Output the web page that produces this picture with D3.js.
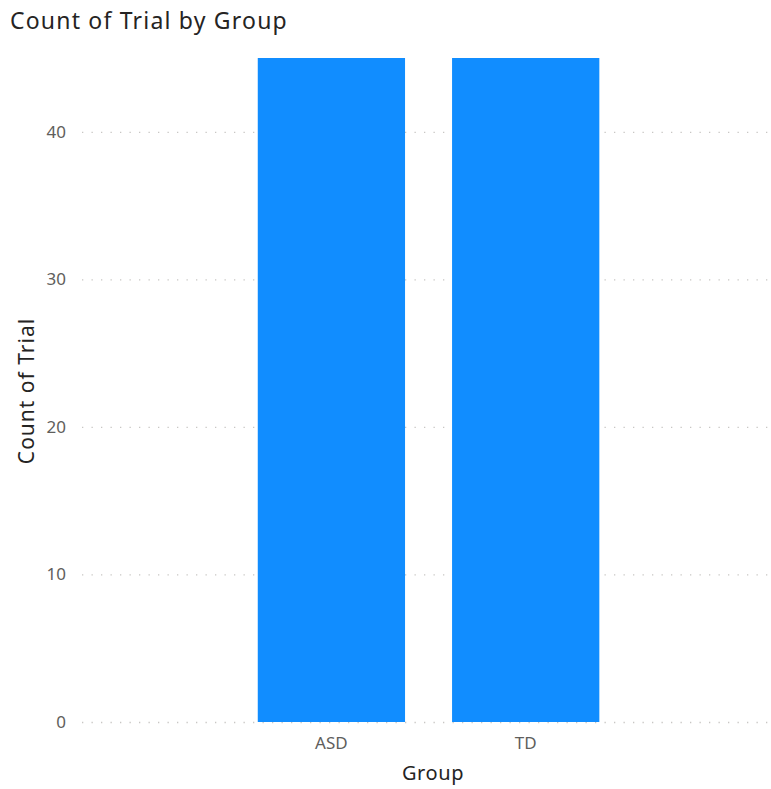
<!DOCTYPE html>
<html>
<head>
<meta charset="utf-8">
<script src="https://cdn.jsdelivr.net/npm/d3@7"></script>
<style>
  html, body { margin: 0; padding: 0; background: #fff; }
  svg { display: block; }
</style>
</head>
<body>
<svg id="chart" width="771" height="789"></svg>
<script>
// Count of trials per participant group
const groups = ["ASD", "TD"];
const trialCounts = [45, 45];
const yTicks = [0, 10, 20, 30, 40];

const svg = d3.select("#chart");
const FONT = "'Noto Sans', 'DejaVu Sans', sans-serif";

const plot = { left: 82, right: 768, top: 58, bottom: 722 };

const x = d3.scaleBand()
  .domain(groups)
  .range([234.25, 622.85])
  .paddingInner(0.242)
  .paddingOuter(0.121);

const y = d3.scaleLinear()
  .domain([0, 45])
  .range([plot.bottom, plot.top]);

// Title
svg.append("text")
  .attr("x", 10)
  .attr("y", 29)
  .attr("font-family", FONT)
  .attr("font-size", 23)
  .attr("letter-spacing", 1.2)
  .attr("fill", "#252423")
  .text("Count of Trial by Group");

// Gridlines and y tick labels
const yAxis = d3.axisLeft(y)
  .tickValues(yTicks)
  .tickSize(-(plot.right - plot.left))
  .tickPadding(16)
  .tickFormat(d3.format("d"));

const gy = svg.append("g")
  .attr("transform", `translate(${plot.left},0)`)
  .call(yAxis);
gy.select(".domain").remove();
gy.selectAll(".tick line")
  .attr("stroke", "#c8c6c4")
  .attr("stroke-width", 1.3)
  .attr("stroke-dasharray", "1.3,8.2");
gy.selectAll(".tick text")
  .attr("font-family", FONT)
  .attr("font-size", 17)
  .attr("fill", "#605e5c");

// Bars
svg.append("g")
  .selectAll("rect")
  .data(groups.map((g, i) => ({ group: g, value: trialCounts[i] })))
  .join("rect")
  .attr("x", d => x(d.group))
  .attr("y", d => y(d.value))
  .attr("width", x.bandwidth())
  .attr("height", d => y(0) - y(d.value))
  .attr("fill", "#118dff");

// x axis labels
const xAxis = d3.axisBottom(x).tickSize(0).tickPadding(15);
const gx = svg.append("g")
  .attr("transform", `translate(0,${plot.bottom})`)
  .call(xAxis);
gx.select(".domain").remove();
gx.selectAll(".tick text")
  .attr("font-family", FONT)
  .attr("font-size", 17)
  .attr("fill", "#605e5c");

// Axis titles
svg.append("text")
  .attr("x", 433)
  .attr("y", 780)
  .attr("text-anchor", "middle")
  .attr("font-family", FONT)
  .attr("font-size", 20)
  .attr("letter-spacing", 0.6)
  .attr("fill", "#252423")
  .text("Group");

svg.append("text")
  .attr("transform", "translate(34,391) rotate(-90)")
  .attr("text-anchor", "middle")
  .attr("font-family", FONT)
  .attr("font-size", 21)
  .attr("letter-spacing", 1)
  .attr("fill", "#252423")
  .text("Count of Trial");
</script>
</body>
</html>
